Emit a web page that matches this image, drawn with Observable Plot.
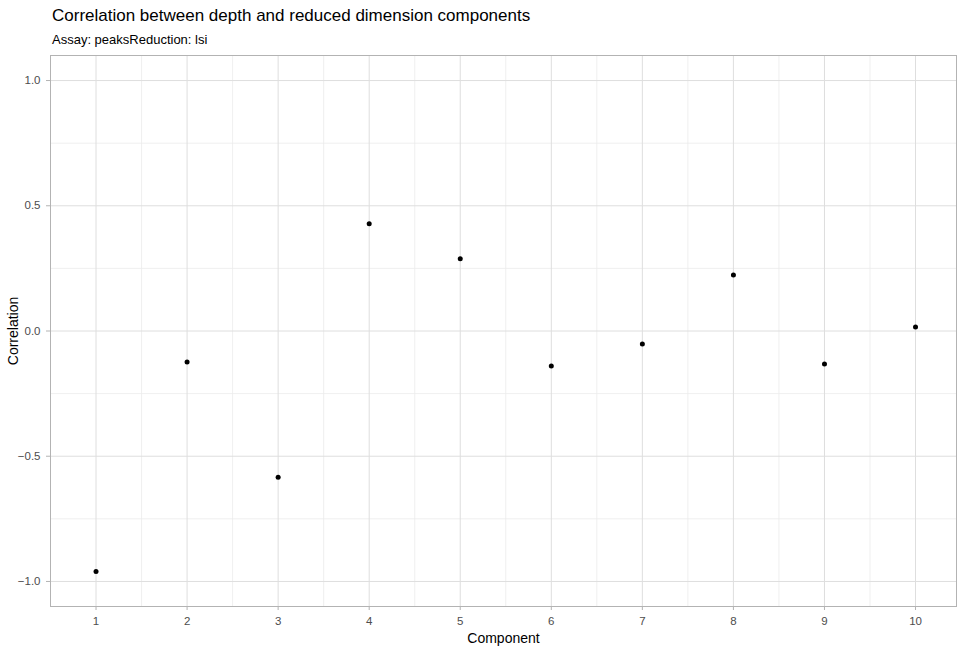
<!DOCTYPE html>
<html>
<head>
<meta charset="utf-8">
<script src="https://cdn.jsdelivr.net/npm/d3@7"></script>
<script src="https://cdn.jsdelivr.net/npm/@observablehq/plot@0.6"></script>
<style>
  body { margin: 0; background: white; font-family: "Liberation Sans", Arial, sans-serif; }
  #title { position: absolute; left: 52px; top: 6px; font-size: 17px; color: #000; }
  #subtitle { position: absolute; left: 52px; top: 32px; font-size: 13px; color: #000; }
  #chart { position: absolute; left: 0; top: 50px; }
</style>
</head>
<body>
<div id="title">Correlation between depth and reduced dimension components</div>
<div id="subtitle">Assay: peaksReduction: lsi</div>
<div id="chart"></div>
<script>
// values
const components = [1, 2, 3, 4, 5, 6, 7, 8, 9, 10];
const correlation = [-0.96, -0.124, -0.584, 0.428, 0.288, -0.14, -0.052, 0.224, -0.132, 0.016];
const yTicks = [-1.0, -0.5, 0.0, 0.5, 1.0];
const yMinor = [-0.75, -0.25, 0.25, 0.75];
const xMinor = [1.5, 2.5, 3.5, 4.5, 5.5, 6.5, 7.5, 8.5, 9.5];

const data = components.map((c, i) => ({component: c, correlation: correlation[i]}));

const chart = Plot.plot({
  width: 964,
  height: 602,
  marginLeft: 50,
  marginRight: 8,
  marginTop: 5,
  marginBottom: 46,
  style: { fontFamily: "Liberation Sans, Arial, sans-serif", fontSize: "11.5px", color: "#4d4d4d" },
  x: { domain: [0.5, 10.45], ticks: components, tickFormat: d => d, label: "Component",
       labelAnchor: "center", labelArrow: "none", labelOffset: 36, tickSize: 4, tickPadding: 6 },
  y: { domain: [-1.1, 1.1], ticks: yTicks, tickFormat: d3.format(".1f"), label: "Correlation",
       labelAnchor: "center", labelArrow: "none", labelOffset: 42, tickSize: 4, tickPadding: 6 },
  marks: [
    Plot.ruleX(xMinor, { stroke: "#ebebeb", strokeWidth: 0.8 }),
    Plot.ruleY(yMinor, { stroke: "#ebebeb", strokeWidth: 0.8 }),
    Plot.ruleX(components, { stroke: "#dedede", strokeWidth: 1 }),
    Plot.ruleY(yTicks, { stroke: "#dedede", strokeWidth: 1 }),
    Plot.frame({ stroke: "#b3b3b3" }),
    Plot.dot(data, { x: "component", y: "correlation", r: 2.5, fill: "black" })
  ]
});
chart.querySelectorAll("[aria-label$='axis label'] text, [aria-label$='axis label']").forEach(t => {
  t.setAttribute("fill", "#000"); t.style.fontSize = "14px";
});
chart.querySelectorAll("[aria-label$='tick'] ").forEach(t => t.setAttribute("stroke", "#b3b3b3"));
d3.select("#chart").append(() => chart);
</script>
</body>
</html>
